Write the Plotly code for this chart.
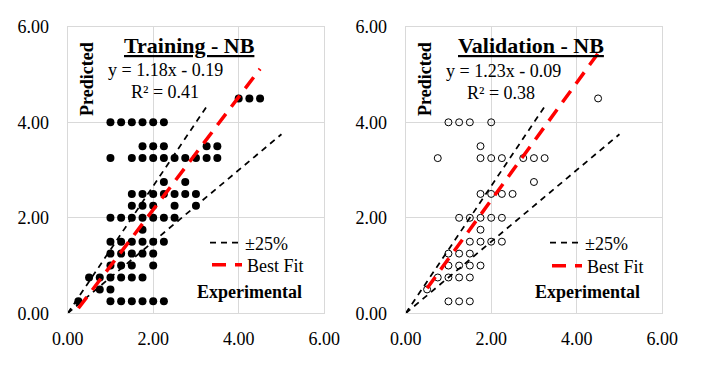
import plotly.graph_objects as go

# ---------------- data ----------------
# Training (filled markers): rows of predicted value -> experimental x values
train_x = [
    4.0, 4.25, 4.5,
    1.0, 1.25, 1.5, 1.75, 2.0, 2.25,
    1.75, 2.0, 2.25, 3.25, 3.5,
    1.0, 1.5, 1.75, 2.0, 2.25, 2.5, 2.75, 3.0, 3.25, 3.5,
    2.25, 2.75,
    1.5, 1.75, 2.0, 2.25, 2.5, 2.75, 3.0,
    1.5, 1.75, 2.0, 2.5, 3.0,
    1.0, 1.25, 1.5, 1.75, 2.0, 2.25, 2.5,
    1.75,
    1.0, 1.25, 1.5, 1.75, 2.0, 2.25,
    1.0, 1.25, 1.5, 1.75, 2.0,
    1.0, 1.25, 1.5, 2.0,
    0.5, 0.75, 1.0, 1.25, 1.5, 1.75,
    0.75, 1.0,
    0.25, 1.0, 1.25, 1.5, 1.75, 2.0, 2.25,
]
train_y = [
    4.5, 4.5, 4.5,
    4.0, 4.0, 4.0, 4.0, 4.0, 4.0,
    3.5, 3.5, 3.5, 3.5, 3.5,
    3.25, 3.25, 3.25, 3.25, 3.25, 3.25, 3.25, 3.25, 3.25, 3.25,
    2.75, 2.75,
    2.5, 2.5, 2.5, 2.5, 2.5, 2.5, 2.5,
    2.25, 2.25, 2.25, 2.25, 2.25,
    2.0, 2.0, 2.0, 2.0, 2.0, 2.0, 2.0,
    1.75,
    1.5, 1.5, 1.5, 1.5, 1.5, 1.5,
    1.25, 1.25, 1.25, 1.25, 1.25,
    1.0, 1.0, 1.0, 1.0,
    0.75, 0.75, 0.75, 0.75, 0.75, 0.75,
    0.5, 0.5,
    0.25, 0.25, 0.25, 0.25, 0.25, 0.25, 0.25,
]

# Validation (open markers)
valid_x = [
    4.5,
    1.0, 1.25, 1.5, 2.0,
    1.75,
    0.75, 1.75, 2.0, 2.25, 2.75, 3.0, 3.25,
    3.0,
    1.75, 2.0, 2.25, 2.5,
    1.25, 1.5, 1.75, 2.0, 2.25,
    1.75,
    1.5, 1.75, 2.0, 2.25,
    1.0, 1.25, 1.5,
    1.0, 1.25, 1.5, 1.75,
    0.75, 1.0, 1.25, 1.5,
    0.5,
    1.0, 1.25, 1.5,
]
valid_y = [
    4.5,
    4.0, 4.0, 4.0, 4.0,
    3.5,
    3.25, 3.25, 3.25, 3.25, 3.25, 3.25, 3.25,
    2.75,
    2.5, 2.5, 2.5, 2.5,
    2.0, 2.0, 2.0, 2.0, 2.0,
    1.75,
    1.5, 1.5, 1.5, 1.5,
    1.25, 1.25, 1.25,
    1.0, 1.0, 1.0, 1.0,
    0.75, 0.75, 0.75, 0.75,
    0.5,
    0.25, 0.25, 0.25,
]

# +/-25% guide lines
upper_x = [0.0, 3.25]
upper_y = [0.0, 4.33]
lower_x = [0.0, 5.0]
lower_y = [0.0, 3.75]

# Best-fit lines (from displayed equations), spanning the data range
train_fit_slope, train_fit_icpt = 1.18, -0.19
valid_fit_slope, valid_fit_icpt = 1.23, -0.09
train_fit_x = [0.25, 4.5]
valid_fit_x = [0.5, 4.5]
train_fit_y = [train_fit_slope * v + train_fit_icpt for v in train_fit_x]
valid_fit_y = [valid_fit_slope * v + valid_fit_icpt for v in valid_fit_x]

tick_vals = [0, 2, 4, 6]

FONT = "Liberation Serif"
W, H = 706, 366


def px(x):
    return x / W


def py(y):
    return 1 - y / H


BLACK_DASH = dict(color="black", width=1.75, dash="6px,5px")
RED_DASH = dict(color="#ff0000", width=3.5, dash="14px,9px")

fig = go.Figure()

# ---- left panel ----
fig.add_trace(go.Scatter(x=train_x, y=train_y, mode="markers", xaxis="x", yaxis="y",
                         marker=dict(size=8, color="black"), showlegend=False))
fig.add_trace(go.Scatter(x=upper_x, y=upper_y, mode="lines", xaxis="x", yaxis="y",
                         line=BLACK_DASH, name="±25%", legend="legend"))
fig.add_trace(go.Scatter(x=lower_x, y=lower_y, mode="lines", xaxis="x", yaxis="y",
                         line=BLACK_DASH, name="±25%", showlegend=False))
fig.add_trace(go.Scatter(x=train_fit_x, y=train_fit_y, mode="lines", xaxis="x", yaxis="y",
                         line=RED_DASH, name="Best Fit", legend="legend2"))

# ---- right panel ----
fig.add_trace(go.Scatter(x=valid_x, y=valid_y, mode="markers", xaxis="x2", yaxis="y2",
                         marker=dict(size=7, color="black", symbol="circle-open",
                                     line=dict(width=1, color="black")),
                         showlegend=False))
fig.add_trace(go.Scatter(x=upper_x, y=upper_y, mode="lines", xaxis="x2", yaxis="y2",
                         line=BLACK_DASH, name="±25%", legend="legend3"))
fig.add_trace(go.Scatter(x=lower_x, y=lower_y, mode="lines", xaxis="x2", yaxis="y2",
                         line=BLACK_DASH, name="±25%", showlegend=False))
fig.add_trace(go.Scatter(x=valid_fit_x, y=valid_fit_y, mode="lines", xaxis="x2", yaxis="y2",
                         line=RED_DASH, name="Best Fit", legend="legend4"))

axis_common = dict(range=[0, 6], tickvals=tick_vals, tickformat=".2f",
                   showgrid=True, gridcolor="#d9d9d9", gridwidth=1,
                   showline=True, linecolor="#d9d9d9", linewidth=1, mirror=True,
                   zeroline=False, ticks="", automargin=False,
                   tickfont=dict(family=FONT, size=18, color="black"), fixedrange=True)

ydom = [py(313.3), py(26.8)]


def legend_at(x, y):
    return dict(x=px(x), y=py(y), xanchor="left", yanchor="middle",
                bgcolor="rgba(0,0,0,0)", borderwidth=0,
                font=dict(family=FONT, size=18, color="black"))


fig.update_layout(
    width=W, height=H,
    margin=dict(l=0, r=0, t=0, b=0, pad=0, autoexpand=False),
    paper_bgcolor="white", plot_bgcolor="white",
    font=dict(family=FONT, size=18, color="black"),
    xaxis=dict(domain=[px(67.7), px(324.2)], anchor="y", ticklabelstandoff=9, **axis_common),
    yaxis=dict(domain=ydom, anchor="x", ticklabelstandoff=14, **axis_common),
    xaxis2=dict(domain=[px(405.7), px(662.2)], anchor="y2", ticklabelstandoff=9, **axis_common),
    yaxis2=dict(domain=ydom, anchor="x2", ticklabelstandoff=14, **axis_common),
    legend=legend_at(205, 243),
    legend2=legend_at(207, 265),
    legend3=legend_at(545, 243),
    legend4=legend_at(547, 266),
)

ann = [
    ("<b><u>Training - NB</u></b>", 190, 45, 22, 0),
    ("<b><u>Validation - NB</u></b>", 531, 45, 22, 0),
    ("y = 1.18x - 0.19", 165, 70, 18, 0),
    ("R² = 0.41", 165, 92, 18, 0),
    ("y = 1.23x - 0.09", 503, 71, 18, 0),
    ("R² = 0.38", 501, 93, 18, 0),
    ("<b>Predicted</b>", 87, 79, 18, -90),
    ("<b>Predicted</b>", 425, 79, 18, -90),
    ("<b>Experimental</b>", 249, 292, 18, 0),
    ("<b>Experimental</b>", 587, 292, 18, 0),
]
for text, x, y, size, rot in ann:
    fig.add_annotation(text=text, x=px(x), y=py(y), xref="paper", yref="paper",
                       xanchor="center", yanchor="middle", showarrow=False,
                       textangle=rot, font=dict(family=FONT, size=size, color="black"))

fig.write_html("out.html", config={"displayModeBar": False},
               post_script="document.body.style.margin='0px';document.body.style.padding='0px';")
